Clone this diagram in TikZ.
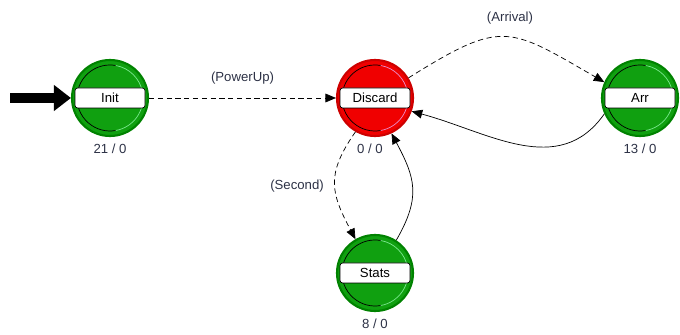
\documentclass[tikz,border=0pt]{standalone}
\usepackage{fontspec}
\setmainfont{Liberation Sans}
\usetikzlibrary{arrows.meta, calc, positioning}
\definecolor{stategreen}{RGB}{16,160,16}
\definecolor{stategreenline}{RGB}{0,130,0}
\definecolor{ringgreen}{RGB}{120,230,140}
\definecolor{statered}{RGB}{240,0,0}
\definecolor{stateredline}{RGB}{205,0,0}
\definecolor{ringred}{RGB}{235,140,200}
\definecolor{labeltext}{RGB}{45,50,70}

\begin{document}
\begin{tikzpicture}[>={Triangle[length=6pt, width=5pt]}, semithick, font=\fontsize{7.5}{9}\selectfont]
    \tikzset{state/.style={circle, minimum size=1.52cm, inner sep=0pt, line width=1.2pt, draw=stategreenline, fill=stategreen},
             badstate/.style={state, draw=stateredline, fill=statered},
             namebox/.style={rectangle, rounded corners=1.5pt, draw=black, thin, fill=white, minimum width=1.4cm, minimum height=0.4cm, inner sep=0pt},
             count/.style={below=0.02cm of #1, text=labeltext},
             trans/.style={dashed, dash pattern=on 3pt off 2pt, thin, ->},
             back/.style={thin, ->},
             event/.style={text=labeltext}};
    \useasboundingbox (0, 0) rectangle (13.6, 6.7);
    % states
    \node[state] (init) at (2.2, 4.74) {};
    \node[badstate] (discard) at (7.5, 4.74) {};
    \node[state] (arr) at (12.8, 4.74) {};
    \node[state] (stats) at (7.5, 1.24) {};
    % inner rings
    \foreach \s/\c in {init/ringgreen, discard/ringred, arr/ringgreen, stats/ringgreen} {
        \draw[black, thin] ($(\s)+(80:0.66)$) arc[start angle=80, end angle=280, radius=0.66];
        \draw[\c, thin] ($(\s)+(-80:0.66)$) arc[start angle=-80, end angle=80, radius=0.66];
    }
    % name boxes
    \node[namebox] (initname) at (init) {Init};
    \node[namebox] (discardname) at (discard) {Discard};
    \node[namebox] (arrname) at (arr) {Arr};
    \node[namebox] (statsname) at (stats) {Stats};
    % counts
    \node[count=init] (initcount) {21 / 0};
    \node[count=discard, xshift=-0.1cm] (discardcount) {0 / 0};
    \node[count=arr] (arrcount) {13 / 0};
    \node[count=stats] (statscount) {8 / 0};
    % entry arrow
    \coordinate (start) at (0.2, 4.74);
    \draw[line width=0.2cm, -{Triangle[length=0.34cm, width=0.5cm]}] (start) -- (init);
    % transitions
    \draw[trans] (init) -- (discard) node[midway, yshift=0.4cm, event] (powerup) {(PowerUp)};
    \draw[trans] (discard.31) to[out=32, in=150, looseness=1.45] (arr.156);
    \node[event] (arrival) at (10.2, 6.34) {(Arrival)};
    \draw[back] (arr.204) to[out=235, in=-15, looseness=1.05] (discard.-20);
    \draw[trans] (discard.240) to[out=235, in=118, looseness=1.25] (stats.120);
    \node[event] (second) at (5.94, 2.98) {(Second)};
    \draw[back] (stats.57) to[out=60, in=-62, looseness=1.2] (discard.-65);
\end{tikzpicture}
\end{document}
